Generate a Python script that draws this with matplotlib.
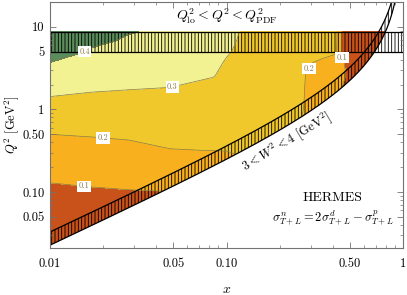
import numpy as np
import matplotlib
matplotlib.use("Agg")
import matplotlib.pyplot as plt
from matplotlib.patches import Polygon
from matplotlib.ticker import FixedLocator, LogLocator, NullFormatter

plt.rcParams['font.family'] = 'cmr10'
plt.rcParams['mathtext.fontset'] = 'cm'
plt.rcParams['axes.formatter.use_mathtext'] = True
plt.rcParams['hatch.linewidth'] = 0.6

# grid nodes (x, Q^2) and ratio values
x_nodes = [0.01, 0.017, 0.028, 0.048, 0.084, 0.1, 0.12, 0.2, 0.28, 0.35, 0.417, 0.45, 0.6, 1.0]
q2_nodes = [0.02, 0.05, 0.1, 0.18, 0.32, 0.5, 0.75, 1.0, 1.4, 1.85, 2.6, 3.7, 5.0, 6.8, 8.7]

# one row per x node, one entry per Q^2 node
ratio = [
    [0.06, 0.078, 0.092, 0.114, 0.163, 0.200, 0.238, 0.266, 0.298, 0.327, 0.363, 0.400, 0.432, 0.465, 0.491],
    [0.06, 0.080, 0.094, 0.125, 0.171, 0.207, 0.239, 0.262, 0.289, 0.312, 0.340, 0.369, 0.393, 0.418, 0.439],
    [0.06, 0.080, 0.097, 0.134, 0.180, 0.214, 0.242, 0.262, 0.286, 0.305, 0.327, 0.350, 0.369, 0.389, 0.405],
    [0.06, 0.085, 0.099, 0.147, 0.198, 0.224, 0.248, 0.265, 0.284, 0.300, 0.317, 0.335, 0.350, 0.365, 0.378],
    [0.06, 0.085, 0.100, 0.152, 0.201, 0.223, 0.243, 0.258, 0.274, 0.288, 0.303, 0.310, 0.318, 0.325, 0.330],
    [0.07, 0.090, 0.110, 0.160, 0.202, 0.222, 0.240, 0.252, 0.265, 0.275, 0.285, 0.296, 0.305, 0.312, 0.318],
    [0.10, 0.120, 0.150, 0.180, 0.210, 0.225, 0.240, 0.250, 0.260, 0.268, 0.276, 0.284, 0.290, 0.295, 0.298],
    [0.22, 0.220, 0.220, 0.220, 0.220, 0.230, 0.240, 0.250, 0.255, 0.260, 0.262, 0.265, 0.267, 0.268, 0.270],
    [0.19, 0.190, 0.190, 0.190, 0.190, 0.190, 0.190, 0.195, 0.197, 0.198, 0.200, 0.210, 0.235, 0.250, 0.255],
    [0.17, 0.170, 0.170, 0.170, 0.170, 0.170, 0.170, 0.170, 0.170, 0.170, 0.180, 0.185, 0.230, 0.250, 0.250],
    [0.14, 0.140, 0.140, 0.140, 0.140, 0.140, 0.140, 0.140, 0.140, 0.140, 0.150, 0.170, 0.210, 0.220, 0.220],
    [0.10, 0.100, 0.100, 0.100, 0.100, 0.100, 0.100, 0.100, 0.100, 0.100, 0.110, 0.105, 0.095, 0.090, 0.090],
    [0.05, 0.050, 0.050, 0.050, 0.050, 0.050, 0.050, 0.050, 0.050, 0.050, 0.050, 0.050, 0.050, 0.050, 0.050],
    [0.03, 0.030, 0.030, 0.030, 0.030, 0.030, 0.030, 0.030, 0.030, 0.030, 0.030, 0.030, 0.030, 0.030, 0.030],
]

levels = [0.0, 0.1, 0.2, 0.3, 0.4, 1.0]
fill_colors = ['#c9511a', '#f8b01f', '#f1c82b', '#f2f293', '#5b8c5b']

q2_lo = 5.0
q2_pdf = 8.7
w2_lo, w2_hi = 3.0, 4.0
m2 = 0.75  # effective nucleon mass squared

# label positions (x, Q^2)
label_pos = [(0.0158, 4.86), (0.049, 2.0), (0.020, 0.447), (0.0156, 0.128), (0.275, 3.39), (0.45, 4.23)]

fig = plt.figure(figsize=(4.07, 2.95), dpi=100)
ax = fig.add_axes([0.1229, 0.1593, 0.8673, 0.8339])
ax.set_xscale('log')
ax.set_yscale('log')
ax.set_xlim(0.01, 1.0)
ax.set_ylim(0.021, 20)

X, Y = np.meshgrid(x_nodes, q2_nodes, indexing='ij')
Z = np.array(ratio)

xs = np.logspace(-2, np.log10(0.995), 400)
q2_w3 = (w2_lo - m2) * xs / (1 - xs)
q2_w4 = (w2_hi - m2) * xs / (1 - xs)

cf = ax.contourf(X, Y, Z, levels=levels, colors=fill_colors)
cl = ax.contour(X, Y, Z, levels=[0.1, 0.2, 0.3, 0.4], colors='#8a7a45', linewidths=0.5)

# keep the fill above the W^2 = 3 boundary
clip_pts = list(zip(xs, q2_w3)) + [(xs[-1], 1e3), (0.005, 1e3), (0.005, 1e-3)]
clip = Polygon(clip_pts, closed=True, transform=ax.transData, fc='none', ec='none')
ax.add_patch(clip)
cf.set_clip_path(clip)
cl.set_clip_path(clip)

labels = ax.clabel(cl, manual=label_pos, inline=False, fontsize=6, fmt='%.1f')
for t in labels:
    t.set_rotation(0)
    t.set_bbox(dict(fc='white', ec='none', pad=1.0))

# hatched bands
ax.fill_between([0.01, 1.0], [q2_lo, q2_lo], [q2_pdf, q2_pdf], facecolor='none',
                edgecolor='k', hatch='|||||', linewidth=0)
ax.axhline(q2_lo, color='k', lw=0.9)
ax.axhline(q2_pdf, color='k', lw=0.9)
ax.fill_between(xs, q2_w3, q2_w4, facecolor='none', edgecolor='k', hatch='|||||', linewidth=0)
ax.plot(xs, q2_w3, color='k', lw=0.9)
ax.plot(xs, q2_w4, color='k', lw=0.9)

ax.text(0.1, 13.5, r'$Q^2_{\rm lo} < Q^2 < Q^2_{\rm PDF}$', ha='center', va='center', fontsize=10)
ax.text(0.22, 0.40, r'$3 < W^2 < 4$ [GeV$^2$]', ha='center', va='center', fontsize=9,
        rotation=31, rotation_mode='anchor')
ax.text(0.40, 0.085, 'HERMES', ha='center', va='center', fontsize=10)
ax.text(0.40, 0.049, r'$\sigma^n_{T+L} = 2\sigma^d_{T+L} - \sigma^p_{T+L}$', ha='center',
        va='center', fontsize=9)

ax.set_xlabel('$x$', fontsize=10, labelpad=10)
ax.set_ylabel(r'$Q^2$ [GeV$^2$]', fontsize=9, labelpad=1)

ax.xaxis.set_major_locator(FixedLocator([0.01, 0.05, 0.1, 0.5, 1.0]))
ax.set_xticklabels(['0.01', '0.05', '0.10', '0.50', '1'])
ax.yaxis.set_major_locator(FixedLocator([0.05, 0.1, 0.5, 1, 5, 10]))
ax.set_yticklabels(['0.05', '0.10', '0.50', '1', '5', '10'])
for a in (ax.xaxis, ax.yaxis):
    a.set_minor_locator(LogLocator(base=10, subs=np.arange(2, 10)))
    a.set_minor_formatter(NullFormatter())
ax.tick_params(which='both', direction='in', top=True, right=True, color='0.45', labelsize=9)
ax.tick_params(axis='x', pad=7)
ax.tick_params(axis='y', pad=4)
ax.tick_params(which='major', length=4, width=0.6)
ax.tick_params(which='minor', length=2, width=0.5)
for s in ax.spines.values():
    s.set_color('0.45')
    s.set_linewidth(0.8)

fig.savefig('out.png', dpi=100)
